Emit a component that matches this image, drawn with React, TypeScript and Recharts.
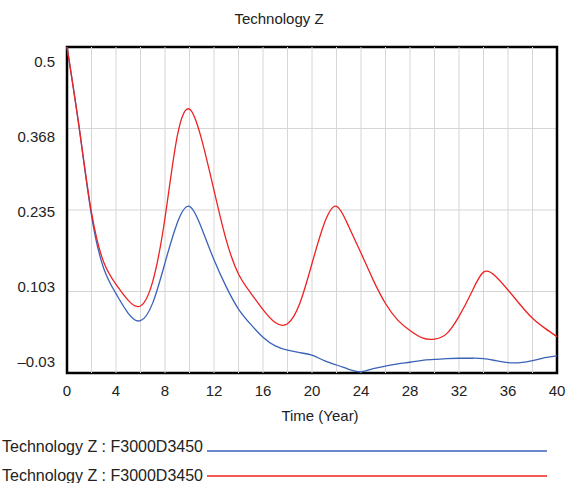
import { LineChart, Line, XAxis, YAxis, CartesianGrid, ReferenceLine, ReferenceArea } from "recharts";

const years = [
  0, 1, 2, 3, 4, 5, 6, 7, 8, 9, 10, 11, 12, 13, 14, 15, 16, 17, 18, 19, 20,
  21, 22, 23, 24, 25, 26, 27, 28, 29, 30, 31, 32, 33, 34, 35, 36, 37, 38, 39, 40,
];

const blueRun = [
  0.5, 0.368, 0.226, 0.14, 0.099, 0.067, 0.055, 0.084, 0.149, 0.214, 0.241,
  0.205, 0.154, 0.11, 0.074, 0.049, 0.028, 0.014, 0.007, 0.003, -0.001,
  -0.01, -0.017, -0.024, -0.028, -0.023, -0.019, -0.015, -0.0125, -0.0095, -0.008,
  -0.0065, -0.006, -0.006, -0.0065, -0.01, -0.013, -0.013, -0.01, -0.005, -0.002,
];

const redRun = [
  0.5, 0.368, 0.231, 0.15, 0.114, 0.088, 0.079, 0.119, 0.222, 0.355, 0.399,
  0.349, 0.267, 0.186, 0.131, 0.1, 0.073, 0.052, 0.05, 0.083, 0.148,
  0.213, 0.241, 0.208, 0.165, 0.121, 0.083, 0.056, 0.039, 0.027, 0.025,
  0.034, 0.062, 0.1, 0.134, 0.127, 0.105, 0.081, 0.059, 0.043, 0.029,
];

const xTicks = [0, 4, 8, 12, 16, 20, 24, 28, 32, 36, 40];
const gridYears = [2, 4, 6, 8, 10, 12, 14, 16, 18, 20, 22, 24, 26, 28, 30, 32, 34, 36, 38];
const yTicks = [-0.03, 0.1025, 0.235, 0.3675, 0.5];
const yTickLabels = ["\u20130.03", "0.103", "0.235", "0.368", "0.5"];

const seriesNames = ["Technology Z : F3000D3450", "Technology Z : F3000D3450"];
const seriesColors = ["#3a62b8", "#ee2222"];

const rows = years.map((t, i) => ({ t, blue: blueRun[i], red: redRun[i] }));

const font = '"Liberation Sans", Arial, sans-serif';

function YTick({ x, y, index }: any) {
  // the original labels sit a bit inward from their gridlines
  const shift = -11 + 6.5 * index;
  return (
    <text x={x} y={y + shift + 5} textAnchor="end" fontSize={15} fill="#222" fontFamily={font}>
      {yTickLabels[index]}
    </text>
  );
}

export default function App() {
  return (
    <div style={{ position: "absolute", left: 0, top: 0, width: 580, height: 483, background: "#fff", fontFamily: font }}>
      <div style={{ position: "absolute", left: 0, top: 10, width: 558, textAlign: "center", fontSize: 15, color: "#222" }}>
        Technology Z
      </div>
      <div style={{ position: "absolute", left: 0, top: 0 }}>
        <LineChart width={580} height={430} data={rows} margin={{ top: 47, right: 23, left: 0, bottom: 0 }}>
          <CartesianGrid vertical={false} stroke="#d6d6d6" />
          {gridYears.map((g) => (
            <ReferenceLine key={g} x={g} stroke="#d6d6d6" />
          ))}
          <XAxis
            dataKey="t"
            type="number"
            domain={[0, 40]}
            ticks={xTicks}
            axisLine={false}
            tickLine={false}
            tickSize={0}
            tickMargin={12}
            height={57}
            tick={{ fontSize: 15, fill: "#222", fontFamily: font }}
            label={{
              content: ({ viewBox }: any) => (
                <text
                  x={viewBox.x + viewBox.width / 2 + 8}
                  y={viewBox.y + 48}
                  textAnchor="middle"
                  fontSize={15}
                  fill="#222"
                  fontFamily={font}
                >
                  Time (Year)
                </text>
              ),
            }}
          />
          <YAxis
            type="number"
            domain={[-0.03, 0.5]}
            ticks={yTicks}
            width={67}
            axisLine={false}
            tickLine={false}
            tickSize={0}
            tickMargin={12}
            tick={<YTick />}
          />
          <Line type="natural" dataKey="blue" stroke={seriesColors[0]} strokeWidth={1.3} dot={false} isAnimationActive={false} />
          <Line type="natural" dataKey="red" stroke={seriesColors[1]} strokeWidth={1.3} dot={false} isAnimationActive={false} />
          <ReferenceArea x1={0} x2={40} y1={-0.03} y2={0.5} fill="none" stroke="#000" strokeWidth={2.5} />
        </LineChart>
      </div>
      <svg style={{ position: "absolute", left: 0, top: 425 }} width={580} height={58}>
        {seriesNames.map((name, i) => (
          <g key={i}>
            <text x={203} y={i === 0 ? 27 : 56} textAnchor="end" fontSize={16} fill="#222" fontFamily={font}>
              {name}
            </text>
            <line x1={207} x2={547} y1={i === 0 ? 26 : 51} y2={i === 0 ? 26 : 51} stroke={seriesColors[i]} strokeWidth={1.5} />
          </g>
        ))}
      </svg>
    </div>
  );
}
